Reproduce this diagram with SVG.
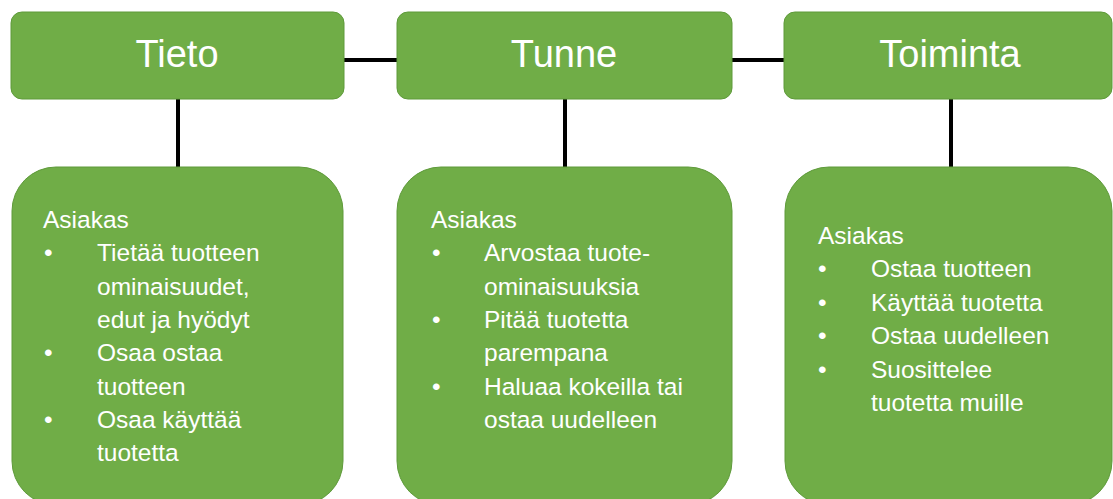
<svg xmlns="http://www.w3.org/2000/svg" width="1113" height="499" viewBox="0 0 1113 499">
<style>
.box{fill:#70AD47;stroke:#5E9A3A;stroke-width:1}
.title{font-family:"Liberation Sans",Arial,sans-serif;font-size:38px;fill:#FFFFFF;text-anchor:middle}
.body{font-family:"Liberation Sans",Arial,sans-serif;font-size:24.5px;fill:#FFFFFF}
.conn{stroke:#000000;stroke-width:4;fill:none}
</style>
<rect width="1113" height="499" fill="#FFFFFF"/>
<g id="connectors">
<line class="conn" x1="344" y1="60" x2="397" y2="60"/>
<line class="conn" x1="732" y1="60" x2="784" y2="60"/>
<line class="conn" x1="178" y1="99" x2="178" y2="168"/>
<line class="conn" x1="565" y1="99" x2="565" y2="168"/>
<line class="conn" x1="951" y1="99" x2="951" y2="168"/>
</g>
<g id="tieto">
<rect class="box" x="11" y="12" width="333" height="87" rx="11"/>
<text class="title" x="177" y="67">Tieto</text>
</g>
<g id="tunne">
<rect class="box" x="397" y="12" width="335" height="87" rx="11"/>
<text class="title" x="564" y="67">Tunne</text>
</g>
<g id="toiminta">
<rect class="box" x="784" y="12" width="328" height="87" rx="11"/>
<text class="title" x="950" y="67">Toiminta</text>
</g>
<g id="tieto-details">
<rect class="box" x="12" y="167" width="331" height="338" rx="44"/>
<text class="body" x="43" y="228">Asiakas</text>
<text class="body" x="44" y="261">•</text>
<text class="body" x="97" y="261">Tietää tuotteen</text>
<text class="body" x="97" y="295">ominaisuudet,</text>
<text class="body" x="97" y="328">edut ja hyödyt</text>
<text class="body" x="44" y="361">•</text>
<text class="body" x="97" y="361">Osaa ostaa</text>
<text class="body" x="97" y="395">tuotteen</text>
<text class="body" x="44" y="428">•</text>
<text class="body" x="97" y="428">Osaa käyttää</text>
<text class="body" x="97" y="461">tuotetta</text>
</g>
<g id="tunne-details">
<rect class="box" x="397" y="167" width="335" height="338" rx="44"/>
<text class="body" x="431" y="228">Asiakas</text>
<text class="body" x="432" y="261">•</text>
<text class="body" x="484" y="261">Arvostaa tuote-</text>
<text class="body" x="484" y="295">ominaisuuksia</text>
<text class="body" x="432" y="328">•</text>
<text class="body" x="484" y="328">Pitää tuotetta</text>
<text class="body" x="484" y="361">parempana</text>
<text class="body" x="432" y="395">•</text>
<text class="body" x="484" y="395">Haluaa kokeilla tai</text>
<text class="body" x="484" y="428">ostaa uudelleen</text>
</g>
<g id="toiminta-details">
<rect class="box" x="785" y="167" width="327" height="338" rx="44"/>
<text class="body" x="818" y="244">Asiakas</text>
<text class="body" x="818" y="277">•</text>
<text class="body" x="871" y="277">Ostaa tuotteen</text>
<text class="body" x="818" y="311">•</text>
<text class="body" x="871" y="311">Käyttää tuotetta</text>
<text class="body" x="818" y="344">•</text>
<text class="body" x="871" y="344">Ostaa uudelleen</text>
<text class="body" x="818" y="378">•</text>
<text class="body" x="871" y="378">Suosittelee</text>
<text class="body" x="871" y="411">tuotetta muille</text>
</g>
</svg>
